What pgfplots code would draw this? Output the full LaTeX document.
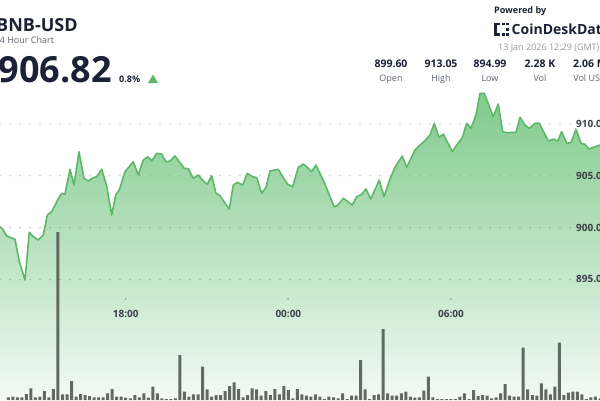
\documentclass[border=0pt]{standalone}
\usepackage{pgfplots}
\pgfplotsset{compat=1.18}
\usepackage{pgfplotstable}
\usepackage{fontspec}
\setmainfont{Open Sans}
\definecolor{navy}{RGB}{27,34,53}
\definecolor{lblgray}{RGB}{95,100,110}
\definecolor{dategray}{RGB}{150,152,158}
\definecolor{linegreen}{RGB}{92,184,104}
\definecolor{topgreen}{RGB}{128,202,140}
\definecolor{botgreen}{RGB}{243,250,244}
\definecolor{barcol}{RGB}{96,106,96}
\definecolor{gridgray}{RGB}{150,152,156}
\definecolor{tickgray}{RGB}{60,64,72}

\pgfplotstableread{
s p
-1.84 900.09
-1.24 899.86
-0.35 899.19
1.48 898.87
2.44 896.71
3.70 894.94
4.65 899.55
5.54 899.12
6.64 898.80
7.75 899.29
8.63 901.22
9.61 901.53
10.85 902.60
11.82 903.31
12.55 903.21
13.66 905.63
14.55 904.11
15.65 907.33
16.76 904.76
17.71 904.50
18.82 904.82
19.57 904.91
20.68 905.63
21.78 904.02
22.89 901.22
23.78 903.15
24.57 903.63
25.84 905.40
27.67 906.36
28.78 905.08
29.89 906.52
30.86 906.84
31.75 906.43
32.85 907.17
33.96 907.10
34.91 906.36
35.80 906.43
36.91 906.91
38.01 906.26
38.96 905.72
39.85 905.69
40.96 904.76
42.06 905.08
43.17 904.50
44.06 904.18
45.03 905.01
45.98 903.31
46.87 903.08
48.93 901.77
49.81 904.11
50.70 904.37
51.89 904.11
52.91 905.24
54.11 904.91
54.99 904.82
56.10 903.31
57.05 903.89
57.94 905.46
59.78 905.63
60.88 904.82
61.86 904.18
62.96 903.95
64.20 905.82
65.31 906.14
66.20 905.82
67.17 905.40
68.12 906.04
70.11 904.21
72.11 902.02
72.84 902.11
74.17 902.83
76.16 902.18
77.13 902.98
78.24 903.21
79.19 903.73
80.23 902.76
82.14 904.59
83.18 902.98
84.50 904.69
85.61 905.82
87.23 906.91
88.20 905.82
90.04 907.49
91.15 907.97
92.25 908.39
93.36 908.94
94.31 910.07
95.35 908.72
96.30 909.03
98.30 907.33
99.27 907.97
100.51 908.68
101.49 910.07
102.44 909.58
103.54 910.87
104.43 912.96
105.38 912.96
107.37 910.70
108.48 911.93
109.45 909.26
110.34 909.16
112.40 909.20
113.29 910.65
114.39 909.90
115.34 909.58
116.61 910.07
117.56 910.07
119.55 908.36
120.66 908.55
121.63 908.36
122.52 909.26
123.62 908.14
124.58 908.20
125.68 909.49
126.79 908.14
127.68 908.04
128.56 907.59
129.89 907.81
131.00 907.97
}\pricedata

\pgfplotstableread{
k v
0 2.7
1 3.3
2 2.7
3 2.7
4 6
5 11.7
6 2.7
7 3.3
8 9
9 2.7
10 11
11 168
12 5.7
13 5.7
14 19
15 3.3
16 6
17 5
18 4
19 2.7
20 2.7
21 2.7
22 6.7
23 11
24 3.3
25 3.3
26 2.3
27 1.7
28 5
29 2.7
30 6.7
31 2.3
32 13.3
33 6.7
34 1.7
35 1
36 1
37 1.7
38 45
39 8.3
40 3.3
41 5.7
42 5.7
43 33.3
44 10.7
45 3.3
46 5
47 5
48 9
49 14
50 17.7
51 11
52 2.7
53 5
54 11.7
55 10.7
56 4.3
57 9
58 5
59 11
60 5.7
61 14
62 10
63 1.7
64 11
65 5.7
66 4.3
67 3.3
68 5.7
69 3.3
70 1
71 3.3
72 2.7
73 1.7
74 6.7
75 1
76 4.3
77 4.3
78 40
79 10.7
80 1
81 5
82 5.7
83 71
84 6.7
85 4.3
86 4.3
87 6.7
88 8.3
89 3.3
90 2.3
91 2.7
92 9.3
93 23.3
94 2.7
95 1
96 1
97 1
98 1
99 1
100 3.3
101 6.7
102 1
103 10
104 4
105 5
106 4.3
107 1.7
108 2.7
109 6.7
110 16
111 4.3
112 3.3
113 3.3
114 52.3
115 10.7
116 5
117 4.3
118 16.7
119 10.7
120 5.7
121 13.3
122 57.3
123 5
124 7.3
125 8.3
126 8.3
127 5.7
128 1
129 2.7
130 3.3
131 1.7
}\voldata

\newcommand{\tickdot}{{\fontsize{6}{6}\selectfont\color{gridgray}\textbullet}}

\begin{document}
\begin{tikzpicture}[x=1pt,y=1pt]
\useasboundingbox (0,0) rectangle (600,400);
\clip (0,0) rectangle (600,400);
\fill[white] (0,0) rectangle (600,400);
\begin{axis}[
  at={(0,0)}, anchor=south west,
  scale only axis, width=600pt, height=400pt,
  xmin=-1.8375, xmax=131.0, ymin=883.36, ymax=921.97,
  axis line style={draw=none},
  tick style={draw=none},
  axis on top,
  ytick={895,900,905,910},
  ymajorgrids,
  grid style={gridgray, line width=1.3pt, line cap=round, dash pattern=on 0pt off 10pt},
  yticklabel pos=right,
  yticklabel style={anchor=west, inner sep=0pt, xshift=-24pt, font=\fontsize{10}{12}\selectfont\bfseries, text=tickgray,
    /pgf/number format/.cd, fixed, fixed zerofill, precision=1, assume math mode=true},
  xtick={26,62,98},
  xticklabels={
    {\shortstack{\tickdot\\[5pt]18:00}},
    {\shortstack{\tickdot\\[5pt]00:00}},
    {\shortstack{\tickdot\\[5pt]06:00}}},
  xticklabel style={anchor=base, inner sep=0pt, yshift=83pt, font=\fontsize{10}{12}\selectfont\bfseries, text=tickgray},
]
\addplot[draw=none, top color=topgreen, bottom color=botgreen] table[x=s,y=p] {\pricedata} \closedcycle;
\addplot[linegreen, line width=1.6pt, line join=round] table[x=s,y=p] {\pricedata};
\end{axis}
\begin{axis}[
  at={(0,0)}, anchor=south west,
  scale only axis, width=600pt, height=400pt,
  xmin=-1.8375, xmax=131.0, ymin=0, ymax=400,
  hide axis,
]
\addplot[ybar, bar width=3pt, fill=barcol, draw=none] table[x=k,y=v] {\voldata};
\end{axis}
% header
\node[anchor=base west, inner sep=0pt, text=navy, font=\fontsize{18}{20}\selectfont\bfseries] at (-4,368) {BNB-USD};
\node[anchor=base west, inner sep=0pt, text=lblgray, font=\fontsize{9}{11}\selectfont] at (-5.5,356) {24 Hour Chart};
\node[anchor=base west, inner sep=0pt, text=navy, font=\fontsize{36}{40}\selectfont\bfseries] at (-1.5,318) {906.82};
\node[anchor=base west, inner sep=0pt, text=navy, font=\fontsize{9}{11}\selectfont\bfseries] at (119,318) {0.8\%};
\fill[linegreen] (148,317) -- (158,317) -- (153,325.5) -- cycle;
\node[anchor=base west, inner sep=0pt, text=navy, font=\fontsize{9}{11}\selectfont\bfseries] at (494,386) {Powered by};
% logo
\fill[navy] (494,364) rectangle (496.5,377);
\fill[navy] (494,374.5) rectangle (500,377);
\fill[navy] (494,364) rectangle (500,366.5);
\fill[navy] (502,374.5) rectangle (504.5,377);
\fill[navy] (502,364) rectangle (504.5,366.5);
\fill[navy] (506,374.5) rectangle (508.5,377);
\fill[navy] (506,364) rectangle (508.5,366.5);
\fill[navy] (506,369.3) rectangle (508.5,371.8);
\node[anchor=base west, inner sep=0pt, text=navy, font=\fontsize{14}{16}\selectfont\bfseries] at (511.5,365) {CoinDeskData};
\node[anchor=base west, inner sep=0pt, text=dategray, font=\fontsize{9}{11}\selectfont] at (498,349) {13 Jan 2026 12:29 (GMT)};
\foreach \cx/\val/\lab in {391/899.60/Open, 441/913.05/High, 490/894.99/Low, 540/2.28 K/Vol, 590/2.06 M/Vol USD}{
  \node[anchor=base, inner sep=0pt, text=navy, font=\fontsize{10.5}{12}\selectfont\bfseries] at (\cx,333) {\val};
  \node[anchor=base, inner sep=0pt, text=lblgray, font=\fontsize{9}{11}\selectfont] at (\cx,319) {\lab};
}
\end{tikzpicture}
\end{document}
